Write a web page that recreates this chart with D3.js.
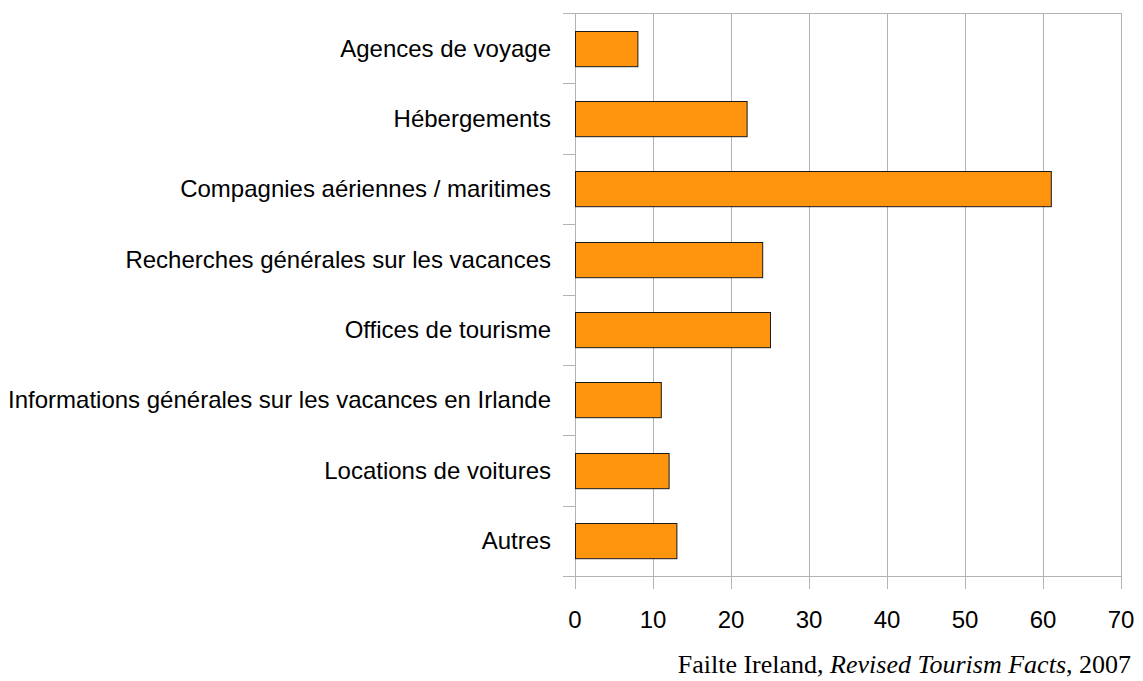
<!DOCTYPE html>
<html>
<head>
<meta charset="utf-8">
<script src="https://cdn.jsdelivr.net/npm/d3@7"></script>
<style>
  body { margin: 0; background: #fff; }
</style>
</head>
<body>
<div id="chart"></div>
<script>
var categories = ["Agences de voyage", "Hébergements", "Compagnies aériennes / maritimes",
    "Recherches générales sur les vacances", "Offices de tourisme",
    "Informations générales sur les vacances en Irlande", "Locations de voitures", "Autres"];
var values = [8, 22, 61, 24, 25, 11, 12, 13];
var xTicks = [0, 10, 20, 30, 40, 50, 60, 70];

var width = 1143, height = 681;
var margin = {top: 13, right: 22, bottom: 105, left: 575};

var svg = d3.select("#chart")
    .append("svg")
    .attr("width", width)
    .attr("height", height);

var x = d3.scaleLinear()
    .domain([0, 70])
    .range([margin.left, width - margin.right]);

var y = d3.scaleBand()
    .domain(categories)
    .range([margin.top, height - margin.bottom])
    .paddingInner(0.5)
    .paddingOuter(0.25);

var plotBottom = height - margin.bottom;
var gridColor = "#b3b3b3";

// vertical gridlines (extend below axis as ticks)
svg.append("g")
    .selectAll("line")
    .data(xTicks)
    .join("line")
    .attr("x1", d => x(d) + 0.5)
    .attr("x2", d => x(d) + 0.5)
    .attr("y1", margin.top)
    .attr("y2", plotBottom + 13)
    .attr("stroke", gridColor)
    .attr("stroke-width", 1);

// top and bottom borders
[margin.top, plotBottom].forEach(function(yy) {
    svg.append("line")
        .attr("x1", margin.left - 12)
        .attr("x2", x(70) + 0.5)
        .attr("y1", yy + 0.5)
        .attr("y2", yy + 0.5)
        .attr("stroke", gridColor);
});

// category boundary ticks
var bounds = d3.range(categories.length + 1).map(i => margin.top + i * (height - margin.bottom - margin.top) / categories.length);
svg.append("g")
    .selectAll("line")
    .data(bounds)
    .join("line")
    .attr("x1", margin.left - 12)
    .attr("x2", margin.left)
    .attr("y1", d => Math.round(d) + 0.5)
    .attr("y2", d => Math.round(d) + 0.5)
    .attr("stroke", gridColor);

// bars
svg.append("g")
    .selectAll("rect")
    .data(values)
    .join("rect")
    .attr("x", x(0) + 0.5)
    .attr("y", (d, i) => Math.round(y(categories[i])) + 0.5)
    .attr("width", d => x(d) - x(0))
    .attr("height", y.bandwidth())
    .attr("fill", "#ff950e")
    .attr("stroke", "#1a1a1a")
    .attr("stroke-width", 1);

// category labels
svg.append("g")
    .selectAll("text")
    .data(categories)
    .join("text")
    .attr("x", 551)
    .attr("y", d => y(d) + y.bandwidth() / 2)
    .attr("dy", "0.35em")
    .attr("text-anchor", "end")
    .style("font", "24px 'Liberation Sans', Arial, sans-serif")
    .attr("fill", "#000")
    .text(d => d);

// x tick labels
svg.append("g")
    .selectAll("text")
    .data(xTicks)
    .join("text")
    .attr("x", d => x(d))
    .attr("y", 628)
    .attr("text-anchor", "middle")
    .style("font", "24px 'Liberation Sans', Arial, sans-serif")
    .attr("fill", "#000")
    .text(d => d);

// source
var src = svg.append("text")
    .attr("x", 1131)
    .attr("y", 673)
    .attr("text-anchor", "end")
    .style("font", "26px 'Liberation Serif', 'Times New Roman', serif")
    .attr("fill", "#000");
src.append("tspan").text("Failte Ireland, ");
src.append("tspan").style("font-style", "italic").text("Revised Tourism Facts");
src.append("tspan").text(", 2007");
</script>
</body>
</html>
